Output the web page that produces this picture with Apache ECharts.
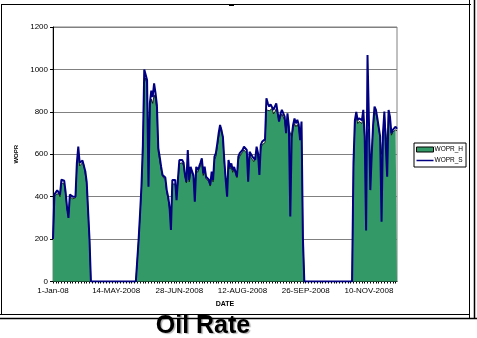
<!DOCTYPE html>
<html><head><meta charset="utf-8">
<script src="https://cdn.jsdelivr.net/npm/echarts@6/dist/echarts.min.js"></script>
<style>html,body{margin:0;padding:0;background:#fff}#c{width:477px;height:338px}</style>
</head><body><div id="c"></div>
<script>
// Tick labels shown on the category axis (every 45th row)
const tickLabels = ['1-Jan-08','14-MAY-2008','28-JUN-2008','12-AUG-2008','26-SEP-2008','10-NOV-2008'];
const yTicks = [0,200,400,600,800,1000,1200];

// WOPR_S (simulated, navy line)
const sSeg1 = [200,410,420,430,425,410,480,482,475,420,350,300,410,405,400,395,400,560,636,560,555,570,565,520,470,470,200];
const gap1 = [0,0,0,0,0,0,0,0,0,0,0,0,0,0,0,0,0,0,0,0,0,0,0,0,0,0,0,0,0,0,0,0,0];
const sSeg2 = [100,200,320,450,640,1000,1000,950,447,841,
  900,870,934,889,832,629,588,541,502,502,
  490,431,400,353,243,479,479,479,384,485,
  573,573,573,560,502,470,620,479,541,520,
  502,376,541,525,541,560,581,510,541,494,
  502,480,455,518,479,589,605,650,700,738,
  746,683,573,480,400,573,541,557,525,540,
  549,494,589,605,612,620,636,628,620,470,
  612,605,589,580,573,636,605,502,644,660,
  667,670,864,840,825,835,840,809,825,840,
  848,754,790,809,817,777,699,793,730,306,
  683,738,769,746,762,740,667,754,200];
const gap2 = [0,0,0,0,0,0,0,0,0,0,0,0,0,0,0,0,0,0,0,0,0,0,0,0,0,0,0,0,0,0,0,0,0,0,0];
const sSeg3 = [560,760,800,760,770,765,760,809,683,240,
  1068,760,431,600,740,825,809,770,777,683,
  282,699,801,809,494,809,777,699,715,723,
  730,720];

// WOPR_H (history, green area)
const hSeg1 = [200,400,410,415,415,400,465,470,460,410,340,310,400,395,390,390,395,540,600,545,545,560,550,505,460,455,200];
const hSeg2 = [100,200,310,440,620,940,960,920,600,820,
  860,840,880,860,810,610,570,530,495,490,
  480,420,390,340,300,460,465,460,400,470,
  555,560,560,545,495,465,590,470,525,510,
  495,470,525,515,530,545,565,500,525,485,
  490,470,450,505,470,575,590,635,680,715,
  725,670,560,490,480,555,530,545,515,530,
  535,490,575,590,600,610,620,615,605,560,
  595,590,575,565,560,615,590,560,625,645,
  650,655,810,815,805,810,815,790,800,815,
  820,760,775,790,795,760,700,770,720,700,
  680,720,745,730,740,725,670,735,200];
const hSeg3 = [540,740,780,745,755,750,745,790,670,650,
  700,720,560,620,725,800,790,760,760,680,
  600,690,785,790,640,790,760,690,705,710,
  715,710];

const woprS = [].concat(sSeg1, gap1, sSeg2, gap2, sSeg3);
const woprH = [].concat(hSeg1, gap1, hSeg2, gap2, hSeg3);

// category (date) rows; labelled rows every 45
const categories = woprS.map((v, i) => (i % 45 === 0 ? tickLabels[i / 45] : 'row' + i));

const chart = echarts.init(document.getElementById('c'), null, {renderer: 'canvas'});
const F = 'Liberation Sans, Arial, sans-serif';
chart.setOption({
  animation: false,
  backgroundColor: '#fff',
  grid: {left: 53, top: 27, width: 344, height: 254.5, show: true, borderColor: '#808080', borderWidth: 1, backgroundColor: '#fff'},
  xAxis: {
    type: 'category', data: categories, boundaryGap: false,
    name: 'DATE', nameLocation: 'middle', nameGap: 19,
    nameTextStyle: {fontFamily: F, fontSize: 7, fontWeight: 'bold', color: '#000'},
    axisLine: {lineStyle: {color: '#000', width: 1}},
    axisTick: {show: true, interval: 1, length: 2, lineStyle: {color: '#000'}},
    axisLabel: {interval: 44, fontFamily: F, fontSize: 8, color: '#000', margin: 5, formatter: v => v},
    splitLine: {show: false}
  },
  yAxis: {
    type: 'value', min: 0, max: 1200, interval: 200,
    name: 'WOPR', nameLocation: 'middle', nameGap: 31, nameRotate: 90,
    nameTextStyle: {fontFamily: F, fontSize: 6, fontWeight: 'bold', color: '#000'},
    axisLine: {show: true, lineStyle: {color: '#000'}},
    axisTick: {show: true, length: 3, lineStyle: {color: '#000'}},
    axisLabel: {fontFamily: F, fontSize: 8, color: '#000', margin: 5, formatter: v => String(v)},
    splitLine: {show: true, lineStyle: {color: '#808080', width: 1}}
  },
  legend: {
    orient: 'vertical', left: 414, top: 143,
    backgroundColor: '#fff', borderColor: '#000', borderWidth: 1,
    padding: [3, 3, 3, 2], itemGap: 4, itemWidth: 17, itemHeight: 5,
    textStyle: {fontFamily: F, fontSize: 6.5, color: '#000', padding: [0,0,0,-4]},
    data: [
      {name: 'WOPR_H', icon: 'rect', itemStyle: {color: '#339966', borderColor: '#000', borderWidth: 1}},
      {name: 'WOPR_S', icon: 'path://M0,0 L34,0 L34,3 L0,3 Z', itemStyle: {color: '#000080', borderWidth: 0}}
    ]
  },
  series: [
    {name: 'WOPR_H', type: 'line', data: woprH, symbol: 'none',
     lineStyle: {color: '#000', width: 0.8}, itemStyle: {color: '#339966'},
     areaStyle: {color: '#339966', opacity: 1}, z: 2},
    {name: 'WOPR_S', type: 'line', data: woprS, symbol: 'none',
     lineStyle: {color: '#000080', width: 2}, itemStyle: {color: '#000080'}, z: 3}
  ],
  graphic: [
    {type: 'line', shape: {x1: 1.5, y1: 4, x2: 1.5, y2: 314}, style: {stroke: '#000', lineWidth: 1}},
    {type: 'line', shape: {x1: 1, y1: 4.5, x2: 471, y2: 4.5}, style: {stroke: '#000', lineWidth: 1}},
    {type: 'line', shape: {x1: 469.5, y1: 0, x2: 469.5, y2: 318}, style: {stroke: '#000', lineWidth: 1}},
    {type: 'line', shape: {x1: 474.5, y1: 0, x2: 474.5, y2: 318}, style: {stroke: '#000', lineWidth: 1.5}},
    {type: 'line', shape: {x1: 0, y1: 314.5, x2: 470, y2: 314.5}, style: {stroke: '#000', lineWidth: 1}},
    {type: 'line', shape: {x1: 0, y1: 318.5, x2: 477, y2: 318.5}, style: {stroke: '#000', lineWidth: 1.5}},
    {type: 'rect', shape: {x: 229, y: 4, width: 5, height: 2}, style: {fill: '#000'}},
    {type: 'text', x: 203, y: 326, style: {text: 'Oil Rate', font: 'bold 25px Liberation Sans, Arial, sans-serif', fill: '#000', align: 'center', verticalAlign: 'middle', textShadowColor: 'rgba(0,0,0,0.3)', textShadowOffsetX: 1.5, textShadowOffsetY: 1.5, textShadowBlur: 1}}
  ]
});
</script></body></html>
